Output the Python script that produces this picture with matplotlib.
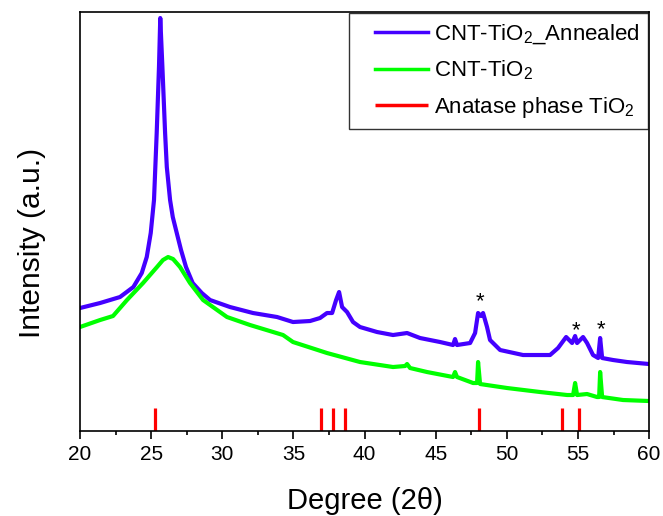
import matplotlib.pyplot as plt
from matplotlib.ticker import MultipleLocator
from matplotlib.lines import Line2D
from matplotlib.collections import LineCollection
from matplotlib.legend_handler import HandlerLine2D, HandlerLineCollection

plt.rcParams['font.family'] = ['Liberation Sans', 'DejaVu Sans']
plt.rcParams['mathtext.default'] = 'regular'

# CNT-TiO2 annealed (2theta, intensity a.u.)
annealed_x = [20.00, 21.41, 22.81, 23.75, 24.34, 24.69, 24.97, 25.20, 25.39, 25.55,
              25.64, 25.79, 25.98, 26.10, 26.33, 26.52, 26.80, 27.10, 27.45, 27.92,
              28.56, 29.14, 30.54, 32.16, 33.85, 34.97, 36.17, 36.87, 37.36, 37.72,
              38.00, 38.21, 38.42, 38.77, 39.19, 39.68, 40.88, 42.00, 42.99, 43.90,
              45.31, 46.22, 46.36, 46.50, 47.42, 47.77, 47.98, 48.19, 48.33, 48.61,
              48.82, 49.53, 51.14, 53.04, 53.60, 54.17, 54.59, 54.80, 54.94, 55.36,
              55.64, 56.06, 56.42, 56.56, 56.70, 57.47, 58.45, 60.00]
annealed_y = [123, 128, 134, 144, 158, 174, 198, 231, 298, 364,
              413, 364, 298, 264, 231, 214, 198, 181, 164, 148,
              138, 131, 124, 118, 114, 109, 110, 113, 118, 118,
              131, 139, 124, 119, 109, 104, 99, 96, 98, 93,
              89, 86, 92, 86, 88, 98, 118, 115, 118, 104,
              91, 81, 76, 76, 83, 94, 88, 95, 88, 94,
              88, 76, 73, 93, 73, 71, 69, 67]

# CNT-TiO2 as prepared
cnt_x = [20.00, 21.41, 22.32, 23.30, 24.43, 25.41, 25.83, 26.19, 26.54, 27.03,
         27.73, 28.65, 30.33, 31.95, 34.27, 34.97, 37.36, 39.68, 42.00, 42.85,
         42.99, 43.20, 44.39, 46.22, 46.36, 46.50, 47.63, 47.91, 47.98, 48.12,
         50.02, 52.34, 54.24, 54.66, 54.80, 54.94, 55.64, 56.34, 56.49, 56.56,
         56.70, 58.17, 60.00]
cnt_y = [104, 111, 115, 131, 148, 164, 171, 174, 172, 164,
         148, 131, 114, 106, 96, 89, 78, 69, 64, 65,
         67, 63, 59, 54, 59, 54, 48, 48, 69, 47,
         43, 39, 36, 36, 48, 36, 37, 34, 34, 59,
         34, 31, 30]

# anatase reference lines
anatase_pos = [25.3, 36.95, 37.8, 38.6, 48.05, 53.9, 55.06]
anatase_h = 23

# asterisk marks
star_x = [48.15, 54.85, 56.6]
star_y = [119, 90, 91]

fig = plt.figure(figsize=(6.63, 5.16), dpi=100)
ax = fig.add_axes([0.1207, 0.1647, 0.8583, 0.812])

ax.plot(annealed_x, annealed_y, color='#4400ff', lw=3, label=r'CNT-TiO$_2$_Annealed')
ax.plot(cnt_x, cnt_y, color='#00ff00', lw=3, label=r'CNT-TiO$_2$')
ax.vlines(anatase_pos, 0, anatase_h, color='#ff0000', lw=2.3,
          label=r'Anatase phase TiO$_2$')

for sx, sy in zip(star_x, star_y):
    ax.text(sx, sy, '*', fontsize=16, ha='center', va='bottom')

ax.set_xlim(20, 60)
ax.set_ylim(0, 419)
ax.set_yticks([])
ax.xaxis.set_major_locator(MultipleLocator(5))
ax.xaxis.set_minor_locator(MultipleLocator(2.5))
ax.tick_params(axis='x', which='major', direction='out', length=5.8, width=1.2,
               labelsize=15, pad=4)
ax.tick_params(axis='x', which='minor', direction='out', length=3, width=1.2)
for s in ax.spines.values():
    s.set_linewidth(1.2)

ax.set_xlabel('Degree (2θ)', fontsize=21)
ax.set_ylabel('Intensity (a.u.)', fontsize=21.5)
ax.xaxis.set_label_coords(0.5, -0.133)
ax.yaxis.set_label_coords(-0.06, 0.45)

leg = ax.legend(loc='upper right', fontsize=16, frameon=True, fancybox=False,
                edgecolor='black', borderaxespad=0.05, handlelength=3.15,
                handletextpad=0.27, labelspacing=0.58, borderpad=0.4,
                handler_map={Line2D: HandlerLine2D(xpad=0.8),
                             LineCollection: HandlerLineCollection(xpad=0.8)})
leg.get_frame().set_linewidth(1.0)
for line in leg.get_lines():
    line.set_linewidth(2.5)

fig.savefig('out.png', dpi=100)
